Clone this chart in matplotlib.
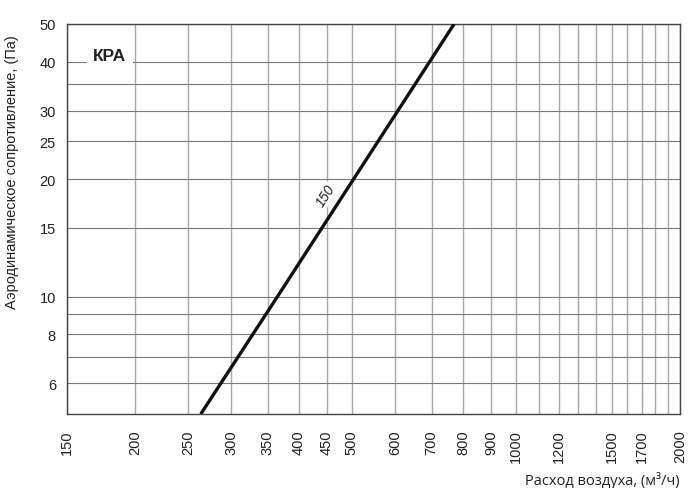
import matplotlib
matplotlib.use("Agg")
import matplotlib.pyplot as plt
from matplotlib.ticker import FixedLocator, FixedFormatter, NullFormatter

# Data
flow = [264, 365, 770]          # m3/h
pressure = [5, 10, 50]          # Pa
curve_label = "150"
title_text = "КРА"

x_major = [150, 200, 250, 300, 350, 400, 450, 500, 600, 700, 800, 900, 1000, 1200, 1500, 1700, 2000]
x_minor = [1100, 1300, 1400, 1600, 1800, 1900]
y_major = [6, 8, 10, 15, 20, 25, 30, 40, 50]
y_minor = [7, 9, 35]

plt.rcParams['font.family'] = ['Liberation Sans', 'DejaVu Sans']

fig = plt.figure(figsize=(7.0, 4.89), dpi=100)
ax = fig.add_axes([0.0957, 0.1513, 0.9714 - 0.0957, 0.9489 - 0.1513])
ax.set_xscale('log')
ax.set_yscale('log')
ax.set_xlim(150, 2000)
ax.set_ylim(5, 50)

ax.xaxis.set_major_locator(FixedLocator(x_major))
ax.xaxis.set_major_formatter(FixedFormatter([str(v) for v in x_major]))
ax.xaxis.set_minor_locator(FixedLocator(x_minor))
ax.xaxis.set_minor_formatter(NullFormatter())
ax.yaxis.set_major_locator(FixedLocator(y_major))
ax.yaxis.set_major_formatter(FixedFormatter([str(v) for v in y_major]))
ax.yaxis.set_minor_locator(FixedLocator(y_minor))
ax.yaxis.set_minor_formatter(NullFormatter())

ax.tick_params(axis='x', which='both', length=0, pad=11, labelsize=10.5, labelrotation=90, colors='#222222')
ax.tick_params(axis='y', which='both', length=0, pad=8, labelsize=10.5, colors='#222222')

ax.grid(True, axis='x', which='both', color='#a8a8a8', linewidth=1.0)
ax.grid(True, axis='y', which='both', color='#7a7a7a', linewidth=0.8)
ax.set_axisbelow(True)

for s in ax.spines.values():
    s.set_color('#444444')
    s.set_linewidth(1.0)

ax.plot(flow, pressure, color='#111111', linewidth=2.4, solid_capstyle='butt', clip_on=True, zorder=3)

ax.text(448, 18.2, curve_label, rotation=57, fontsize=10, style='italic',
        ha='center', va='center', color='#222222', zorder=4,
        bbox=dict(facecolor='white', edgecolor='none', pad=0.5))

ax.text(0.07, 0.92, title_text, transform=ax.transAxes, fontsize=12.5, fontweight='bold',
        ha='center', va='center', color='#222222', zorder=4,
        bbox=dict(facecolor='white', edgecolor='none', pad=4.5))

fig.text(0.017, 0.648, "Аэродинамическое сопротивление, (Па)", rotation=90,
         ha='center', va='center', fontsize=10.5, color='#222222')
fig.text(0.9714, 0.018, "Расход воздуха, (м³/ч)", ha='right', va='center',
         fontsize=10.5, color='#222222', family=['Open Sans', 'DejaVu Sans'])

fig.savefig("out.png", dpi=100, facecolor='white')
